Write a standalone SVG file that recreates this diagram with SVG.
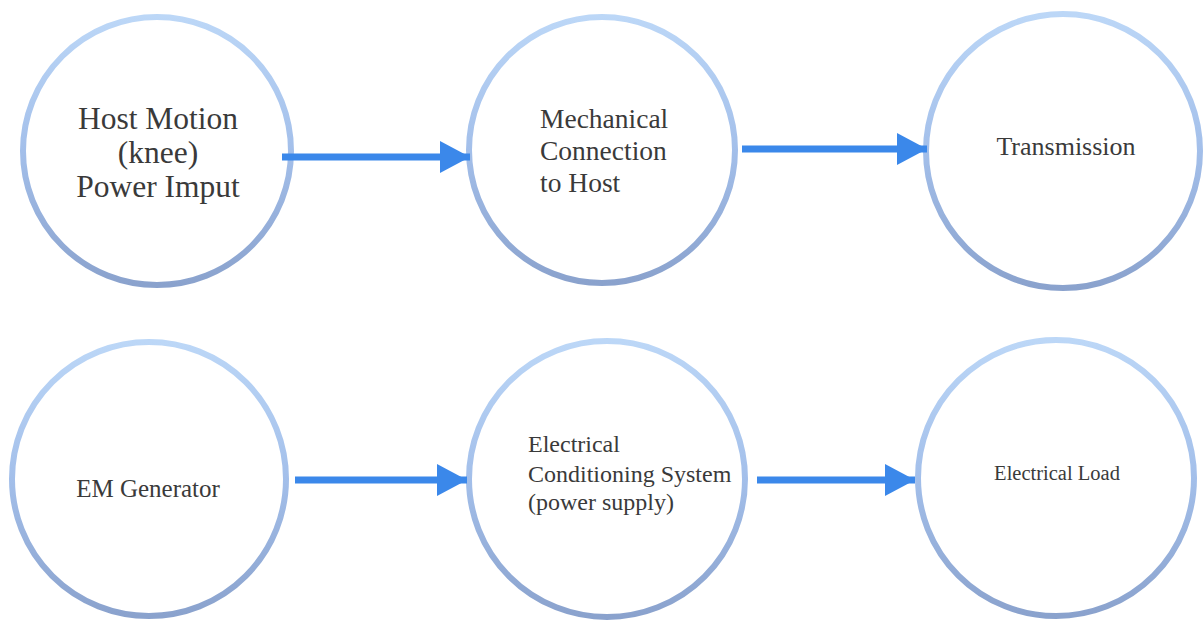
<svg xmlns="http://www.w3.org/2000/svg" width="1204" height="620" viewBox="0 0 1204 620">
  <defs>
    <linearGradient id="ring" x1="0" y1="0" x2="0" y2="1">
      <stop offset="0" stop-color="#bcd7f7"/>
      <stop offset="0.5" stop-color="#a3bfea"/>
      <stop offset="1" stop-color="#8aa2cd"/>
    </linearGradient>
    <marker id="head" markerUnits="userSpaceOnUse" markerWidth="32" markerHeight="34" refX="30" refY="16" orient="auto">
      <path d="M0,0 L30,16 L0,32 Z" fill="#3b88ea"/>
    </marker>
  </defs>
  <style>
    .node circle { fill: #ffffff; stroke: url(#ring); stroke-width: 6; }
    .node text { font-family: "Liberation Serif", "DejaVu Serif", serif; fill: #3a3a3a; }
    .conn line { stroke: #3b88ea; stroke-width: 7; marker-end: url(#head); }
  </style>
  <rect width="1204" height="620" fill="#ffffff"/>

  <g id="host-motion" class="node">
    <circle cx="157" cy="151" r="134"/>
    <text x="158" y="129" font-size="31.5" text-anchor="middle">Host Motion</text>
    <text x="158" y="163" font-size="31.5" text-anchor="middle">(knee)</text>
    <text x="158" y="197" font-size="31.5" text-anchor="middle">Power Imput</text>
  </g>

  <g id="mechanical-connection" class="node">
    <circle cx="602" cy="150" r="133"/>
    <text x="540" y="128" font-size="27.5">Mechanical</text>
    <text x="540" y="160" font-size="27.5">Connection</text>
    <text x="540" y="192" font-size="27.5">to Host</text>
  </g>

  <g id="transmission" class="node">
    <circle cx="1063" cy="151" r="137"/>
    <text x="1066" y="155" font-size="26" text-anchor="middle">Transmission</text>
  </g>

  <g id="em-generator" class="node">
    <circle cx="149" cy="479" r="137"/>
    <text x="148" y="497" font-size="25" text-anchor="middle">EM Generator</text>
  </g>

  <g id="electrical-conditioning" class="node">
    <circle cx="607" cy="479" r="138"/>
    <text x="528" y="452" font-size="24">Electrical</text>
    <text x="528" y="482" font-size="24">Conditioning System</text>
    <text x="528" y="510" font-size="24">(power supply)</text>
  </g>

  <g id="electrical-load" class="node">
    <circle cx="1056" cy="478" r="138"/>
    <text x="1057" y="480" font-size="20.5" text-anchor="middle">Electrical Load</text>
  </g>

  <g id="connectors" class="conn">
    <line x1="282" y1="157" x2="470" y2="157"/>
    <line x1="742" y1="149" x2="927" y2="149"/>
    <line x1="295" y1="480" x2="467" y2="480"/>
    <line x1="757" y1="480" x2="915" y2="480"/>
  </g>
</svg>
